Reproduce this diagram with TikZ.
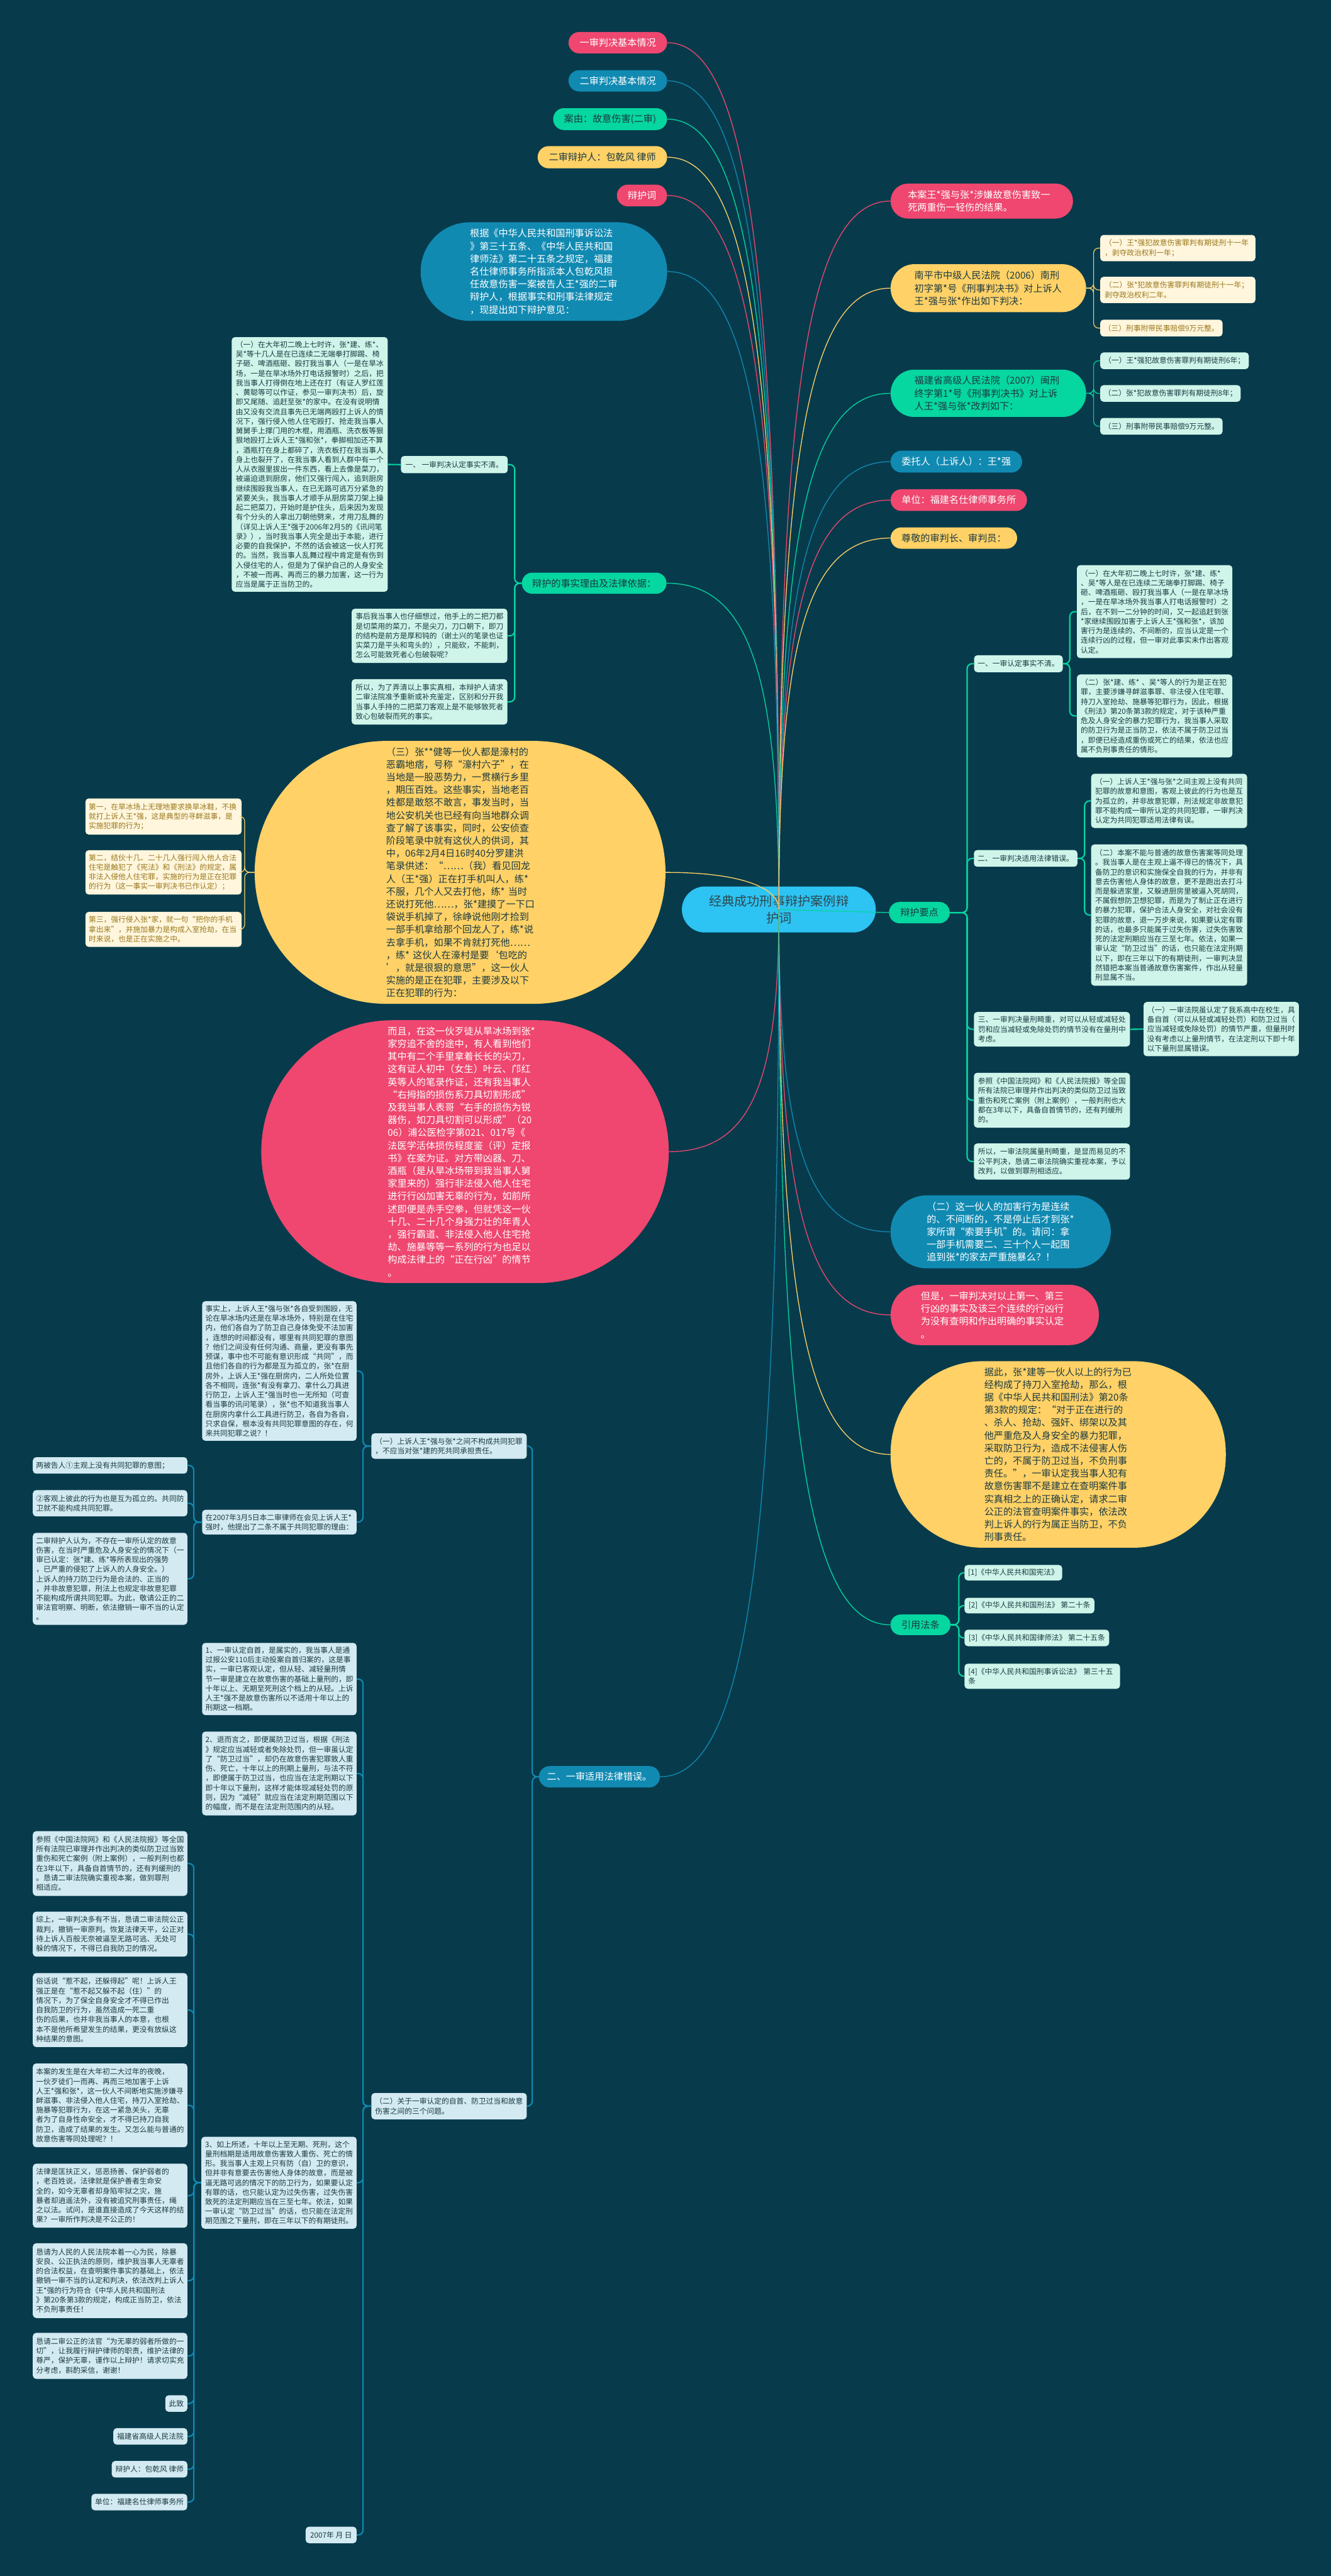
\documentclass[tikz,border=0pt]{standalone}
\usepackage{fontspec}
\newfontfamily\cjk{Noto Sans CJK SC}
\usetikzlibrary{positioning}

\definecolor{bgc}{HTML}{073B4C}
\definecolor{pinkc}{HTML}{EF476F}
\definecolor{bluec}{HTML}{118AB2}
\definecolor{greenc}{HTML}{06D6A0}
\definecolor{yellowc}{HTML}{FFD166}
\definecolor{rootc}{HTML}{2DC3F2}
\definecolor{mintc}{HTML}{CFF5EA}
\definecolor{creamc}{HTML}{FFF6DD}
\definecolor{paleblue}{HTML}{D3EAF2}
\definecolor{darkc}{HTML}{1B3A42}
\definecolor{brownc}{HTML}{9A781C}

\tikzset{
  bigtext/.style={font=\cjk\fontsize{16.5}{22}\selectfont},
  smalltext/.style={font=\cjk\fontsize{12.8}{16.6}\selectfont},
  wh/.style 2 args={minimum width=#1mm, minimum height=#2mm},
  pill/.style={inner sep=0pt, align=left, bigtext},
  pinkpill/.style={pill, fill=pinkc, text=white},
  bluepill/.style={pill, fill=bluec, text=white},
  greenpill/.style={pill, fill=greenc, text=darkc},
  yellowpill/.style={pill, fill=yellowc, text=darkc},
  leaf/.style={inner sep=0pt, align=left, rounded corners=2mm, smalltext},
  mintbox/.style={leaf, fill=mintc, text=darkc},
  creambox/.style={leaf, fill=creamc, text=brownc},
  bluebox/.style={leaf, fill=paleblue, text=darkc},
  rootlink/.style={draw=#1, line width=0.5mm},
  brlink/.style={draw=#1, line width=0.8mm, rounded corners=3mm},
}

\begin{document}
\begin{tikzpicture}[x=1mm, y=-1mm]

\useasboundingbox (0,0) rectangle (810,1568);
\fill[bgc] (0,0) rectangle (810,1568);

% root
\node[fill=rootc, text=darkc!80!gray, rounded corners=14mm, inner sep=0pt, wh={118}{28}, align=center,
      font=\cjk\fontsize{22}{29.7}\selectfont, text width=95mm] (root) at (474,553.6)
      {经典成功刑事辩护案例辩\\护词};

% left: tags on top
\node[pinkpill, wh={60}{13}, rounded corners=6.5mm] (tag1) at (376,26) {一审判决基本情况};
\node[bluepill, wh={60}{13}, rounded corners=6.5mm] (tag2) at (376,49.2) {二审判决基本情况};
\node[greenpill, wh={69.3}{13.3}, rounded corners=6.6mm] (tag3) at (371.3,72.5) {案由：故意伤害(二审)};
\node[yellowpill, wh={78.8}{13.5}, rounded corners=6.7mm] (tag4) at (366.6,95.7) {二审辩护人：包乾风 律师};
\node[pinkpill, wh={30.5}{13.2}, rounded corners=6.6mm] (tag5) at (390.7,119) {辩护词};

% intro
\node[bluepill, wh={150}{60}, rounded corners=30mm, text width=90mm] (intro) at (331,165.3)
  {根据《中华人民共和国刑事诉讼法\\》第三十五条、《中华人民共和国\\律师法》第二十五条之规定，福建\\名仕律师事务所指派本人包乾风担\\任故意伤害一案被告人王*强的二审\\辩护人，根据事实和刑事法律规定\\，现提出如下辩护意见：};

% facts branch
\node[greenpill, wh={88}{12.9}, rounded corners=6.4mm] (facts) at (361.6,355) {辩护的事实理由及法律依据：};
\node[mintbox, wh={65}{10.5}] (facts1) at (276.5,282.8) {一、 一审判决认定事实不清。};
\node[mintbox, wh={95}{155}, text width=90mm] (facts1a) at (188.5,282.7)
  {（一）在大年初二晚上七时许，张*建、练*、\\吴*等十几人是在已连续二无端拳打脚踢、椅\\子砸、啤酒瓶砸、殴打我当事人（一是在旱冰\\场，一是在旱冰场外打电话报警时）之后，把\\我当事人打得倒在地上还在打（有证人罗红莲\\、黄聪等可以作证，参见一审判决书）后，旋\\即又尾随、追赶至张*的家中。在没有说明情\\由又没有交流且事先已无端两殴打上诉人的情\\况下，强行侵入他人住宅殴打、抢走我当事人\\舅舅手上撑门用的木棍，用酒瓶、洗衣板等狠\\狠地殴打上诉人王*强和张*，拳脚相加还不算\\，酒瓶打在身上都碎了，洗衣板打在我当事人\\身上也裂开了，在我当事人看到人群中有一个\\人从衣服里拔出一件东西，看上去像是菜刀，\\被逼迫退到厨房，他们又强行闯入，追到厨房\\继续围殴我当事人，在已无路可逃万分紧急的\\紧要关头，我当事人才顺手从厨房菜刀架上操\\起二把菜刀，开始时是护住头，后来因为发现\\有个分头的人拿出刀朝他劈来，才用刀乱舞的\\（详见上诉人王*强于2006年2月5的《讯问笔\\录》），当时我当事人完全是出于本能，进行\\必要的自我保护，不然的话会被这一伙人打死\\的。当然，我当事人乱舞过程中肯定是有伤到\\入侵住宅的人，但是为了保护自己的人身安全\\，不被一而再、再而三的暴力加害，这一行为\\应当是属于正当防卫的。};
\node[mintbox, wh={94.8}{33}, text width=90mm] (facts2) at (261.4,387)
  {事后我当事人也仔细想过，他手上的二把刀都\\是切菜用的菜刀，不是尖刀，刀口朝下，即刀\\的结构是前方是厚和钝的（谢土兴的笔录也证\\实菜刀是平头和弯头的），只能砍，不能刺，\\怎么可能致死者心包破裂呢？};
\node[mintbox, wh={94.8}{27.6}, text width=90mm] (facts3) at (261.4,427.2)
  {所以，为了弄清以上事实真相，本辩护人请求\\二审法院准予重新或补充鉴定，区别和分开我\\当事人手持的二把菜刀客观上是不能够致死者\\致心包破裂而死的事实。};

% yellow ellipse
\node[yellowpill, wh={250}{160}, rounded corners=80mm, text width=90mm] (gang) at (280,531)
  {（三）张**健等一伙人都是濠村的\\恶霸地痞，号称“濠村六子”，在\\当地是一股恶势力，一贯横行乡里\\，期压百姓。这些事实，当地老百\\姓都是敢怒不敢言，事发当时，当\\地公安机关也已经有向当地群众调\\查了解了该事实，同时，公安侦查\\阶段笔录中就有这伙人的供词，其\\中，06年2月4日16时40分罗建洪\\笔录供述：“……（我）看见回龙\\人（王*强）正在打手机叫人，练*\\不服，几个人又去打他，练* 当时\\还说打死他……，张*建摸了一下口\\袋说手机掉了，徐峥说他刚才捡到\\一部手机拿给那个回龙人了，练*说\\去拿手机，如果不肯就打死他……\\，练* 这伙人在濠村是要‘包吃的\\’，就是很狠的意思”，这一伙人\\实施的是正在犯罪，主要涉及以下\\正在犯罪的行为：};
\node[creambox, wh={95}{22}, text width=91mm] (gang1) at (99.5,497)
  {第一，在旱冰场上无理地要求换旱冰鞋，不换\\就打上诉人王*强，这是典型的寻衅滋事，是\\实施犯罪的行为；};
\node[creambox, wh={95}{27}, text width=91mm] (gang2) at (99.5,531)
  {第二，结伙十几、二十几人强行闯入他人合法\\住宅是触犯了《宪法》和《刑法》的规定，属\\非法入侵他人住宅罪，实施的行为是正在犯罪\\的行为（这一事实一审判决书已作认定）；};
\node[creambox, wh={95}{21.3}, text width=91mm] (gang3) at (99.5,565.7)
  {第三，强行侵入张*家，就一句“把你的手机\\拿出来”，并施加暴力是构成入室抢劫，在当\\时来说，也是正在实施之中。};

% pink ellipse
\node[pinkpill, wh={248}{160}, rounded corners=80mm, text width=94mm] (knife) at (283,701)
  {而且，在这一伙歹徒从旱冰场到张*\\家穷追不舍的途中，有人看到他们\\其中有二个手里拿着长长的尖刀，\\这有证人初中（女生）叶云、邝红\\英等人的笔录作证，还有我当事人\\“右拇指的损伤系刀具切割形成”\\及我当事人表哥“右手的损伤为锐\\器伤，如刀具切割可以形成”（20\\06）浦公医检字第021、017号《\\法医学活体损伤程度鉴（评）定报\\书》在案为证。对方带凶器、刀、\\酒瓶（是从旱冰场带到我当事人舅\\家里来的）强行非法侵入他人住宅\\进行行凶加害无辜的行为，如前所\\述即便是赤手空拳，但就凭这一伙\\十几、二十几个身强力壮的年青人\\，强行霸道、非法侵入他人住宅抢\\劫、施暴等等一系列的行为也足以\\构成法律上的“正在行凶”的情节\\。};

% left bottom: law branch
\node[bluepill, wh={73.6}{13}, rounded corners=6.5mm] (law) at (364.8,1081.5) {二、一审适用法律错误。};
\node[bluebox, wh={94.6}{15.5}, text width=90mm] (law1) at (273.3,880.2)
  {（一）上诉人王*强与张*之间不构成共同犯罪\\，不应当对张*建的死共同承担责任。};
\node[bluebox, wh={94.6}{16}, text width=90mm] (law2) at (273.3,1282)
  {（二）关于一审认定的自首、防卫过当和故意\\伤害之间的三个问题。};
\node[bluebox, wh={94}{85}, text width=90mm] (law1a) at (170,834.5)
  {事实上，上诉人王*强与张*各自受到围殴，无\\论在旱冰场内还是在旱冰场外，特别是在住宅\\内，他们各自为了防卫自己身体免受不法加害\\，连想的时间都没有，哪里有共同犯罪的意图\\？他们之间没有任何沟通、商量，更没有事先\\预谋，事中也不可能有意识形成“共同”，而\\且他们各自的行为都是互为孤立的，张*在厨\\房外，上诉人王*强在厨房内，二人所处位置\\各不相同，连张*有没有拿刀、拿什么刀具进\\行防卫，上诉人王*强当时也一无所知（可查\\看当事的讯问笔录），张*也不知道我当事人\\在厨房内拿什么工具进行防卫，各自为各自，\\只求自保，根本没有共同犯罪意图的存在，何\\来共同犯罪之说？！};
\node[bluebox, wh={94}{15}, text width=90mm] (law1b) at (170,926.5)
  {在2007年3月5日本二审律师在会见上诉人王*\\强时，他提出了二条不属于共同犯罪的理由：};
\node[bluebox, wh={94}{10}, text width=90mm] (law1b1) at (67,892)
  {两被告人①主观上没有共同犯罪的意图；};
\node[bluebox, wh={94}{16}, text width=90mm] (law1b2) at (67,915)
  {②客观上彼此的行为也是互为孤立的。共同防\\卫就不能构成共同犯罪。};
\node[bluebox, wh={94}{56}, text width=90mm] (law1b3) at (67,961)
  {二审辩护人认为，不存在一审所认定的故意\\伤害，在当时严重危及人身安全的情况下（一\\审已认定：张*建、练*等所表现出的强势\\，已严重的侵犯了上诉人的人身安全。）\\上诉人的持刀防卫行为是合法的、正当的\\，并非故意犯罪，刑法上也规定非故意犯罪\\不能构成所谓共同犯罪。为此，敬请公正的二\\审法官明察、明断，依法撤销一审不当的认定\\。};
\node[bluebox, wh={94}{44}, text width=90mm] (law2a) at (170,1022)
  {1、一审认定自首，是属实的，我当事人是通\\过报公安110后主动投案自首归案的，这是事\\实，一审已客观认定，但从轻、减轻量刑情\\节一审是建立在故意伤害的基础上量刑的，即\\十年以上、无期至死刑这个档上的从轻。上诉\\人王*强不是故意伤害所以不适用十年以上的\\刑期这一档期。};
\node[bluebox, wh={94}{51}, text width=90mm] (law2b) at (170,1079.5)
  {2、退而言之，即便属防卫过当，根据《刑法\\》规定应当减轻或者免除处罚，但一审虽认定\\了“防卫过当”，却仍在故意伤害犯罪致人重\\伤、死亡，十年以上的刑期上量刑，与法不符\\，即便属于防卫过当，也应当在法定刑期以下\\即十年以下量刑，这样才能体现减轻处罚的原\\则，因为“减轻”就应当在法定刑期范围以下\\的幅度，而不是在法定刑范围内的从轻。};
\node[bluebox, wh={94.5}{56}, text width=90mm] (law2c) at (169.8,1328.6)
  {3、如上所述，十年以上至无期、死刑，这个\\量刑档期是适用故意伤害致人重伤、死亡的情\\形。我当事人主观上只有防（自）卫的意识，\\但并非有意要去伤害他人身体的故意，而是被\\逼无路可逃的情况下的防卫行为，如果要认定\\有罪的话，也只能认定为过失伤害，过失伤害\\致死的法定刑期应当在三至七年。依法，如果\\一审认定“防卫过当”的话，也只能在法定刑\\期范围之下量刑，即在三年以下的有期徒刑。};
\node[bluebox, wh={31}{10}] (law2d) at (201.5,1543) {2007年 月 日};

% left column under 3、
\node[bluebox, wh={94}{39.4}, text width=90mm] (end1) at (67,1134.3)
  {参照《中国法院网》和《人民法院报》等全国\\所有法院已审理并作出判决的类似防卫过当致\\重伤和死亡案例（附上案例），一般判刑也都\\在3年以下，具备自首情节的，还有判缓刑的\\。恳请二审法院确实重视本案，做到罪刑\\相适应。};
\node[bluebox, wh={94}{27.4}, text width=90mm] (end2) at (67,1177.3)
  {综上，一审判决多有不当，恳请二审法院公正\\裁判，撤销一审原判。恢复法律天平，公正对\\待上诉人百般无奈被逼至无路可逃、无处可\\躲的情况下，不得已自我防卫的情况。};
\node[bluebox, wh={94}{45}, text width=90mm] (end3) at (67,1223.5)
  {俗话说“惹不起，还躲得起”呢！上诉人王\\*强正是在“惹不起又躲不起（住）”的\\情况下，为了保全自身安全才不得已作出\\自我防卫的行为，虽然造成一死二重\\伤的后果，也并非我当事人的本意，也根\\本不是他所希望发生的结果，更没有放纵这\\种结果的意图。};
\node[bluebox, wh={94}{51}, text width=90mm] (end4) at (67,1281.5)
  {本案的发生是在大年初二大过年的夜晚，\\一伙歹徒们一而再、再而三地加害于上诉\\人王*强和张*，这一伙人不间断地实施涉嫌寻\\衅滋事、非法侵入他人住宅，持刀入室抢劫、\\施暴等犯罪行为，在这一紧急关头，无辜\\者为了自身性命安全，才不得已持刀自我\\防卫，造成了结果的发生。又怎么能与普通的\\故意伤害等同处理呢？！};
\node[bluebox, wh={94}{39}, text width=90mm] (end5) at (67,1336.5)
  {法律是匡扶正义，惩恶扬善、保护弱者的\\，老百姓说，法律就是保护善者生命安\\全的，如今无辜者却身陷牢狱之灾，施\\暴者却逍遥法外，没有被追究刑事责任，绳\\之以法。试问，是谁直接造成了今天这样的结\\果？一审所作判决是不公正的！};
\node[bluebox, wh={94}{45.5}, text width=90mm] (end6) at (67,1388.2)
  {恳请为人民的人民法院本着一心为民，除暴\\安良、公正执法的原则，维护我当事人无辜者\\的合法权益，在查明案件事实的基础上，依法\\撤销一审不当的认定和判决，依法改判上诉人\\王*强的行为符合《中华人民共和国刑法\\》第20条第3款的规定，构成正当防卫，依法\\不负刑事责任！};
\node[bluebox, wh={94}{28}, text width=90mm] (end7) at (67,1434)
  {恳请二审公正的法官“为无辜的弱者所做的一\\切”，让我履行辩护律师的职责，维护法律的\\尊严，保护无辜，谨作以上辩护！请求切实充\\分考虑，斟酌采信，谢谢！};
\node[bluebox, wh={13.4}{10}] (end8) at (107.3,1463) {此致};
\node[bluebox, wh={45}{10}] (end9) at (91.5,1483) {福建省高级人民法院};
\node[bluebox, wh={46}{10}] (end10) at (91,1503) {辩护人：包乾风 律师};
\node[bluebox, wh={58.3}{10}] (end11) at (84.8,1523) {单位：福建名仕律师事务所};

% right side
\node[pinkpill, wh={111}{21.3}, rounded corners=10.6mm, text width=90mm] (res) at (597.5,122.4)
  {本案王*强与张*涉嫌故意伤害致一\\死两重伤一轻伤的结果。};
\node[yellowpill, wh={119}{29.2}, rounded corners=14.6mm, text width=90mm] (first) at (601.5,175.4)
  {南平市中级人民法院（2006）南刑\\初字第*号《刑事判决书》对上诉人\\王*强与张*作出如下判决：};
\node[creambox, wh={94.4}{16}, text width=89mm] (first1) at (716.8,151)
  {（一）王*强犯故意伤害罪判有期徒刑十一年\\，剥夺政治权利一年；};
\node[creambox, wh={94.4}{16}, text width=89mm] (first2) at (716.8,176.5)
  {（二）张*犯故意伤害罪判有期徒刑十一年；\\剥夺政治权利二年。};
\node[creambox, wh={74.4}{10.2}] (first3) at (706.8,199.7) {（三）刑事附带民事赔偿9万元整。};
\node[greenpill, wh={119}{28.8}, rounded corners=14.4mm, text width=90mm] (second) at (601.5,239.4)
  {福建省高级人民法院（2007）闽刑\\终字第1*号《刑事判决书》对上诉\\人王*强与张*改判如下：};
\node[mintbox, wh={90.4}{10.1}] (second1) at (714.8,219.6) {（一）王*强犯故意伤害罪判有期徒刑6年；};
\node[mintbox, wh={85.4}{10.1}] (second2) at (712.3,239.5) {（二）张*犯故意伤害罪判有期徒刑8年；};
\node[mintbox, wh={74.4}{10.2}] (second3) at (706.8,259.5) {（三）刑事附带民事赔偿9万元整。};
\node[bluepill, wh={80}{13.3}, rounded corners=6.6mm] (client) at (582,281) {委托人（上诉人）：王*强};
\node[pinkpill, wh={83}{13.2}, rounded corners=6.6mm] (firm) at (583.5,304.4) {单位：福建名仕律师事务所};
\node[yellowpill, wh={77}{13}, rounded corners=6.5mm] (judge) at (580.5,327.5) {尊敬的审判长、审判员：};

% main points
\node[greenpill, wh={37}{13}, rounded corners=6.5mm] (pts) at (559.5,555.5) {辩护要点};
\node[mintbox, wh={54}{10.3}] (pts1) at (619.8,404) {一、一审认定事实不清。};
\node[mintbox, wh={94.6}{56.6}, text width=90mm] (pts1a) at (702.7,372.3)
  {（一）在大年初二晚上七时许，张*建、练*\\、吴*等人是在已连续二无端拳打脚踢、椅子\\砸、啤酒瓶砸、殴打我当事人（一是在旱冰场\\，一是在旱冰场外我当事人打电话报警时）之\\后，在不到一二分钟的时间，又一起追赶到张\\{*}家继续围殴加害于上诉人王*强和张*，该加\\害行为是连续的、不间断的，应当认定是一个\\连续行凶的过程，但一审对此事实未作出客观\\认定。};
\node[mintbox, wh={94.6}{50.5}, text width=90mm] (pts1b) at (702.7,435.8)
  {（二）张*建、练* 、吴*等人的行为是正在犯\\罪，主要涉嫌寻衅滋事罪、非法侵入住宅罪、\\持刀入室抢劫、施暴等犯罪行为，因此，根据\\《刑法》第20条第3款的规定，对于该种严重\\危及人身安全的暴力犯罪行为，我当事人采取\\的防卫行为是正当防卫，依法不属于防卫过当\\，即便已经造成重伤或死亡的结果，依法也应\\属不负刑事责任的情形。};
\node[mintbox, wh={63}{10.2}] (pts2) at (624.2,522.5) {二、一审判决适用法律错误。};
\node[mintbox, wh={95}{33}, text width=90mm] (pts2a) at (711.5,487.5)
  {（一）上诉人王*强与张*之间主观上没有共同\\犯罪的故意和意图，客观上彼此的行为也是互\\为孤立的，并非故意犯罪，刑法规定非故意犯\\罪不能构成一审所认定的共同犯罪，一审判决\\认定为共同犯罪适用法律有误。};
\node[mintbox, wh={95}{86}, text width=90mm] (pts2b) at (711.5,557)
  {（二）本案不能与普通的故意伤害案等同处理\\。我当事人是在主观上逼不得已的情况下，具\\备防卫的意识和实施保全自我的行为，并非有\\意去伤害他人身体的故意，更不是跑出去打斗\\而是躲进家里，又躲进厨房里被逼入死胡同，\\不属假想防卫想犯罪，而是为了制止正在进行\\的暴力犯罪，保护合法人身安全，对社会没有\\犯罪的故意，退一万步来说，如果要认定有罪\\的话，也最多只能属于过失伤害，过失伤害致\\死的法定刑期应当在三至七年。依法，如果一\\审认定“防卫过当”的话，也只能在法定刑期\\以下，即在三年以下的有期徒刑，一审判决显\\然错把本案当普通故意伤害案件，作出从轻量\\刑显属不当。};
\node[mintbox, wh={95}{21}, text width=90mm] (pts3) at (640.2,626.5)
  {三、一审判决量刑畸重，对可以从轻或减轻处\\罚和应当减轻或免除处罚的情节没有在量刑中\\考虑。};
\node[mintbox, wh={94.5}{33}, text width=90mm] (pts3a) at (743.2,626.4)
  {（一）一审法院虽认定了我系高中在校生，具\\备自首（可以从轻或减轻处罚）和防卫过当（\\应当减轻或免除处罚）的情节严重，但量刑时\\没有考虑以上量刑情节，在法定刑以下即十年\\以下量刑显属错误。};
\node[mintbox, wh={95}{33.4}, text width=90mm] (pts4) at (640.2,669.7)
  {参照《中国法院网》和《人民法院报》等全国\\所有法院已审理并作出判决的类似防卫过当致\\重伤和死亡案例（附上案例），一般判刑也大\\都在3年以下，具备自首情节的，还有判缓刑\\的。};
\node[mintbox, wh={95}{22}, text width=90mm] (pts5) at (640.2,707)
  {所以，一审法院属量刑畸重，是显而易见的不\\公平判决，恳请二审法院确实重视本案，予以\\改判，以做到罪刑相适应。};

% right lower
\node[bluepill, wh={134}{44.4}, rounded corners=22mm, text width=90mm] (chase) at (609,749.8)
  {（二）这一伙人的加害行为是连续\\的、不间断的，不是停止后才到张*\\家所谓“索要手机”的。请问：拿\\一部手机需要二、三十个人一起围\\追到张*的家去严重施暴么？！};
\node[pinkpill, wh={126.7}{36.7}, rounded corners=18mm, text width=90mm] (but) at (605.4,800.4)
  {但是，一审判决对以上第一、第三\\行凶的事实及该三个连续的行凶行\\为没有查明和作出明确的事实认定\\。};
\node[yellowpill, wh={204}{113.5}, rounded corners=56mm, text width=90mm] (hence) at (644,885.3)
  {据此，张*建等一伙人以上的行为已\\经构成了持刀入室抢劫，那么，根\\据《中华人民共和国刑法》第20条\\第3款的规定：“对于正在进行的\\、杀人、抢劫、强奸、绑架以及其\\他严重危及人身安全的暴力犯罪，\\采取防卫行为，造成不法侵害人伤\\亡的，不属于防卫过当，不负刑事\\责任。”，一审认定我当事人犯有\\故意伤害罪不是建立在查明案件事\\实真相之上的正确认定，请求二审\\公正的法官查明案件事实，依法改\\判上诉人的行为属正当防卫，不负\\刑事责任。};
\node[greenpill, wh={36.5}{12.5}, rounded corners=6.2mm] (refs) at (560.2,989) {引用法条};
\node[mintbox, wh={59.5}{9.4}] (ref1) at (616.7,957.3) {[1]《中华人民共和国宪法》};
\node[mintbox, wh={79}{9.5}] (ref2) at (626.5,977.3) {[2]《中华人民共和国刑法》 第二十条};
\node[mintbox, wh={88}{10}] (ref3) at (631,997) {[3]《中华人民共和国律师法》 第二十五条};
\node[mintbox, wh={94.6}{15.3}, text width=90mm] (ref4) at (634.3,1020.3) {[4]《中华人民共和国刑事诉讼法》 第三十五\\条};

% brackets
\foreach \k in {facts1,facts2,facts3}
  \draw[brlink=greenc] (facts.west) -- ++(-4.3,0) |- (\k.east);
\draw[brlink=greenc] (facts1.west) -- (facts1a.east);
\foreach \k in {gang1,gang2,gang3}
  \draw[brlink=yellowc, line width=0.45mm] (gang.west) -- ++(-6,0) |- (\k.east);
\foreach \k in {law1,law2}
  \draw[brlink=bluec] (law.west) -- ++(-4,0) |- (\k.east);
\foreach \k in {law1a,law1b}
  \draw[brlink=bluec] (law1.west) -- ++(-5,0) |- (\k.east);
\foreach \k in {law1b1,law1b2,law1b3}
  \draw[brlink=bluec] (law1b.west) -- ++(-5,0) |- (\k.east);
\foreach \k in {law2a,law2b,law2c,law2d}
  \draw[brlink=bluec] (law2.west) -- ++(-5,0) |- (\k.east);
\foreach \k in {end1,end2,end3,end4,end5,end6,end7,end8,end9,end10,end11}
  \draw[brlink=bluec] (law2c.west) -- ++(-4.5,0) |- (\k.east);
\foreach \k in {first1,first2,first3}
  \draw[brlink=yellowc, line width=0.45mm] (first.east) -- ++(4.5,0) |- (\k.west);
\foreach \k in {second1,second2,second3}
  \draw[brlink=greenc, line width=0.45mm] (second.east) -- ++(4.5,0) |- (\k.west);
\foreach \k in {pts1,pts2,pts3,pts4,pts5}
  \draw[brlink=greenc] (pts.east) -- ++(10.5,0) |- (\k.west);
\foreach \k in {pts1a,pts1b}
  \draw[brlink=greenc] (pts1.east) -- ++(4.2,0) |- (\k.west);
\foreach \k in {pts2a,pts2b}
  \draw[brlink=greenc] (pts2.east) -- ++(4.3,0) |- (\k.west);
\draw[brlink=greenc] (pts3.east) -- (pts3a.west);
\foreach \k in {ref1,ref2,ref3,ref4}
  \draw[brlink=greenc] (refs.east) -- ++(5,0) |- (\k.west);

% root links, left
\draw[rootlink=pinkc] (tag1.east) .. controls (457,26) and (474,173.7) .. (root.center);
\draw[rootlink=bluec] (tag2.east) .. controls (457,49.2) and (474,190.4) .. (root.center);
\draw[rootlink=greenc] (tag3.east) .. controls (457,72.5) and (474,207.2) .. (root.center);
\draw[rootlink=yellowc] (tag4.east) .. controls (457,95.7) and (474,223.9) .. (root.center);
\draw[rootlink=pinkc] (tag5.east) .. controls (457,119) and (474,240.7) .. (root.center);
\draw[rootlink=bluec] (intro.east) .. controls (457,165.3) and (474,274) .. (root.center);
\draw[rootlink=greenc] (facts.east) .. controls (456,355) and (474,410.6) .. (root.center);
\draw[rootlink=yellowc] (gang.east) .. controls (450,531) and (474,540) .. (root.center);
\draw[rootlink=pinkc] (knife.east) .. controls (457,701) and (474,659.7) .. (root.center);
\draw[rootlink=bluec] (law.east) .. controls (456,1081.5) and (474,933.7) .. (root.center);
% root links, right
\draw[rootlink=pinkc] (res.west) .. controls (491,122.4) and (474,243.1) .. (root.center);
\draw[rootlink=yellowc] (first.west) .. controls (491,175.4) and (474,281.3) .. (root.center);
\draw[rootlink=greenc] (second.west) .. controls (491,239.4) and (474,327.4) .. (root.center);
\draw[rootlink=bluec] (client.west) .. controls (491,281) and (474,357.3) .. (root.center);
\draw[rootlink=pinkc] (firm.west) .. controls (491,304.4) and (474,374.2) .. (root.center);
\draw[rootlink=yellowc] (judge.west) .. controls (491,327.5) and (474,390.8) .. (root.center);
\draw[rootlink=greenc] (root.center) -- (pts.west);
\draw[rootlink=bluec] (chase.west) .. controls (491,749.8) and (474,694.9) .. (root.center);
\draw[rootlink=pinkc] (but.west) .. controls (491,800.4) and (474,731.3) .. (root.center);
\draw[rootlink=yellowc] (hence.west) .. controls (491,885.3) and (474,792.4) .. (root.center);
\draw[rootlink=greenc] (refs.west) .. controls (491,989) and (474,867.1) .. (root.center);

\end{tikzpicture}
\end{document}
